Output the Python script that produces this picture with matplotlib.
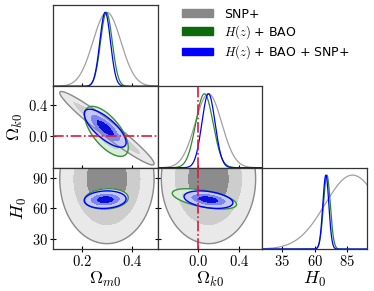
import numpy as np
import matplotlib.pyplot as plt
from matplotlib.patches import Patch

plt.rcParams['mathtext.fontset'] = 'cm'

# parameters and axis setup
par_names = [r'$\Omega_{m0}$', r'$\Omega_{k0}$', r'$H_0$']
par_ranges = [(0.088, 0.50), (-0.40, 0.63), (20.0, 100.0)]
x_ticks = [[0.2, 0.4], [0.0, 0.4], [35, 60, 85]]
x_ticklabels = [['0.2', '0.4'], ['0.0', '0.4'], ['35', '60', '85']]
y_ticks = {1: [0.0, 0.4], 2: [30, 60, 90]}
y_ticklabels = {1: ['0.0', '0.4'], 2: ['30', '60', '90']}

labels = ['SNP+', r'$H(z)$ + BAO', r'$H(z)$ + BAO + SNP+']

# posterior summaries: (Om0, Ok0, H0)
mean_snp = [0.300, 0.10, 89.0]
sig_snp = [0.054, 0.135, 18.5]
sig1d_snp = [0.055, 0.130, 21.0]
rho_snp = {(1, 0): -0.965, (2, 0): 0.0, (2, 1): 0.0}

mean_hb = [0.298, 0.06, 69.4]
sig_hb = [0.025, 0.092, 2.9]
sig1d_hb = [0.023, 0.085, 2.6]
rho_hb = {(1, 0): -0.65, (2, 0): 0.10, (2, 1): -0.55}

mean_all = [0.293, 0.10, 68.6]
sig_all = [0.024, 0.070, 2.5]
sig1d_all = [0.021, 0.065, 2.3]
rho_all = {(1, 0): -0.75, (2, 0): 0.10, (2, 1): -0.35}

means = [mean_snp, mean_hb, mean_all]
sigs = [sig_snp, sig_hb, sig_all]
sigs1d = [sig1d_snp, sig1d_hb, sig1d_all]
rhos = [rho_snp, rho_hb, rho_all]

# 68 / 95 / 99.7 per cent levels for two parameters
chi2_levels = [0.0, 2.30, 6.18, 11.83]

fill_colors = [['#8c8c8c', '#cdcdcd', '#e9e9e9'],
               ['#7fbf7f', '#b5dab5', '#d9ecd9'],
               ['#0a10d8', '#7b86f2', '#c3c8f7']]
edge_colors = ['#8a8a8a', '#3a8f3a', '#0000ff']
line_colors = ['#a0a0a0', '#2a8a2a', '#0000ff']
legend_colors = ['#888888', '#0b6b0b', '#0000ff']
red = '#e3173c'

fig, axes = plt.subplots(3, 3, figsize=(3.74, 2.91), dpi=100)
fig.subplots_adjust(left=0.142, right=0.981, bottom=0.144, top=0.983,
                    wspace=0, hspace=0)

for i in range(3):
    for j in range(3):
        ax = axes[i, j]
        if j > i:
            ax.axis('off')
            continue
        ax.set_xlim(par_ranges[j])
        ax.tick_params(direction='inout', length=4, width=0.8,
                       labelsize=10.5, pad=1.5)
        for sp in ax.spines.values():
            sp.set_linewidth(0.9)
            sp.set_color('#333333')
        ax.set_xticks(x_ticks[j])
        if i == 2:
            ax.set_xticklabels(['$%s$' % t for t in x_ticklabels[j]])
            ax.set_xlabel(par_names[j], fontsize=13, labelpad=1)
        else:
            ax.set_xticklabels([])

        if i == j:
            x = np.linspace(par_ranges[j][0], par_ranges[j][1], 400)
            for k in range(3):
                p = np.exp(-0.5 * ((x - means[k][j]) / sigs1d[k][j]) ** 2)
                ax.plot(x, p, color=line_colors[k], lw=0.9)
            ax.set_ylim(0, 1.1)
            ax.set_yticks([])
            if j == 1:
                ax.axvline(0.0, color=red, ls='-.', lw=1.2, zorder=5)
            continue

        ax.set_ylim(par_ranges[i])
        ax.set_yticks(y_ticks[i])
        if j == 0:
            ax.set_yticklabels(['$%s$' % t for t in y_ticklabels[i]])
            ax.set_ylabel(par_names[i], fontsize=13, labelpad=2)
        else:
            ax.set_yticklabels([])

        gx = np.linspace(par_ranges[j][0], par_ranges[j][1], 300)
        gy = np.linspace(par_ranges[i][0], par_ranges[i][1], 300)
        X, Y = np.meshgrid(gx, gy)
        for k in range(3):
            dx = (X - means[k][j]) / sigs[k][j]
            dy = (Y - means[k][i]) / sigs[k][i]
            r = rhos[k][(i, j)]
            r2 = (dx ** 2 - 2 * r * dx * dy + dy ** 2) / (1 - r ** 2)
            ax.contourf(X, Y, r2, levels=chi2_levels, colors=fill_colors[k])
            ax.contour(X, Y, r2, levels=[chi2_levels[-1]],
                       colors=[edge_colors[k]], linewidths=1.0)

        if (i, j) == (1, 0):
            ax.axhline(0.0, color=red, ls='-.', lw=1.2, zorder=5)
        if (i, j) == (2, 1):
            ax.axvline(0.0, color=red, ls='-.', lw=1.2, zorder=5)

handles = [Patch(color=c) for c in legend_colors]
fig.legend(handles, labels, loc='upper left', bbox_to_anchor=(0.456, 1.012),
           frameon=False, fontsize=9, handlelength=2.5, handleheight=0.6,
           labelspacing=0.2, handletextpad=0.9)

fig.savefig('out.png', dpi=100)
